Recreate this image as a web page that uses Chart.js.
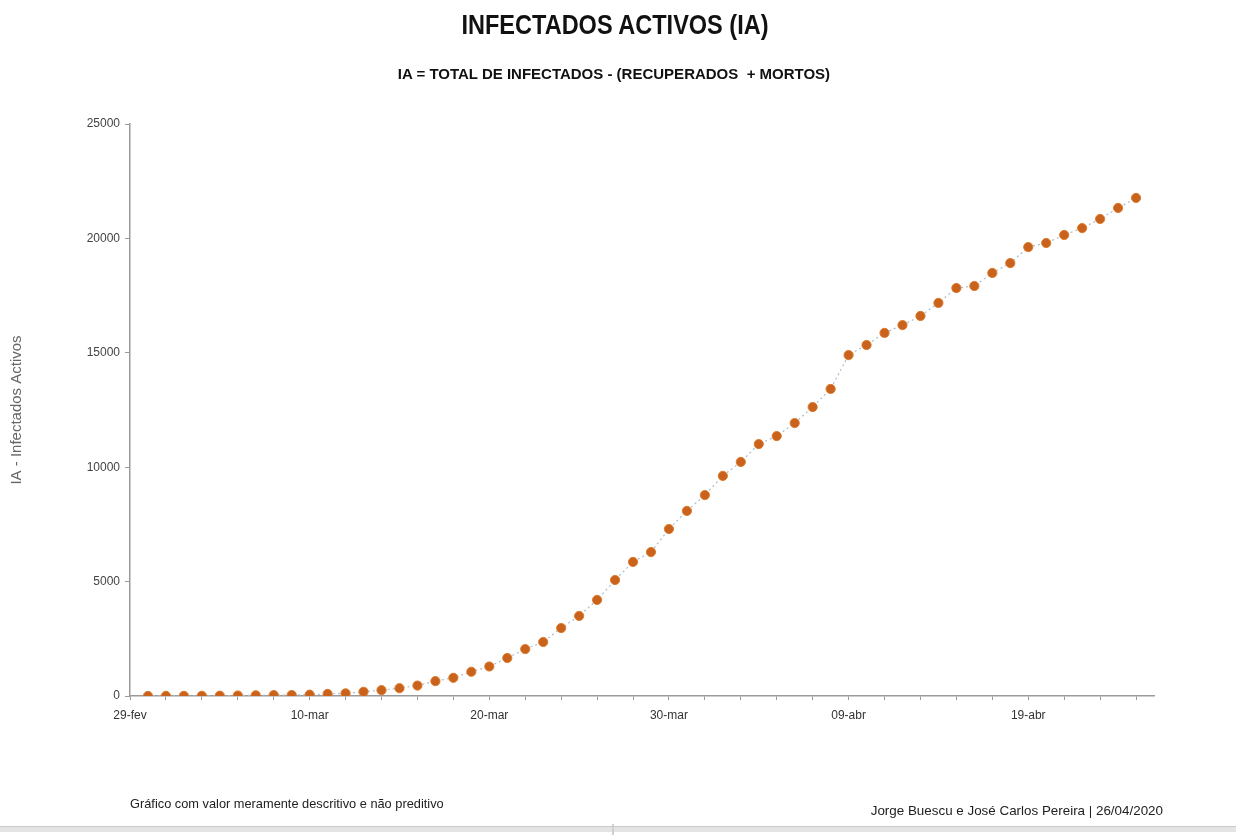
<!DOCTYPE html>
<html><head><meta charset="utf-8">
<script src="https://cdn.jsdelivr.net/npm/chart.js@4"></script>
<style>
html,body{margin:0;padding:0;background:#fff;}
body{width:1236px;height:835px;position:relative;overflow:hidden;font-family:"Liberation Sans",Arial,sans-serif;}
#c{position:absolute;left:0;top:0;}
.t{position:absolute;white-space:nowrap;color:#111;}
#title{left:0;width:1230px;text-align:center;top:9px;font-weight:bold;font-size:28px;transform:scaleX(0.84);transform-origin:615px 0;}
#sub{left:0;width:1228px;text-align:center;top:65px;font-weight:bold;font-size:15px;}
#foot1{left:130px;top:796px;font-size:12.8px;color:#222;}
#foot2{right:73px;top:803px;font-size:13.4px;color:#222;}
#band{position:absolute;left:0;top:826px;width:1236px;height:5px;background:#e4e4e4;border-top:1px solid #c9c9c9;}
#div{position:absolute;left:612px;top:824px;width:2px;height:11px;background:#d0d0d0;}
</style></head>
<body>
<canvas id="c" width="1236" height="835"></canvas>
<div class="t" id="title">INFECTADOS ACTIVOS (IA)</div>
<div class="t" id="sub">IA = TOTAL DE INFECTADOS - (RECUPERADOS &nbsp;+ MORTOS)</div>
<div class="t" id="foot1">Gráfico com valor meramente descritivo e não preditivo</div>
<div class="t" id="foot2">Jorge Buescu e José Carlos Pereira | 26/04/2020</div>
<div id="band"></div><div id="div"></div>
<script>
// Axis categories (one per day)
const dayLabels = [
 '29-fev',
 '01-mar','02-mar','03-mar','04-mar','05-mar','06-mar','07-mar','08-mar','09-mar','10-mar',
 '11-mar','12-mar','13-mar','14-mar','15-mar','16-mar','17-mar','18-mar','19-mar','20-mar',
 '21-mar','22-mar','23-mar','24-mar','25-mar','26-mar','27-mar','28-mar','29-mar','30-mar','31-mar',
 '01-abr','02-abr','03-abr','04-abr','05-abr','06-abr','07-abr','08-abr','09-abr','10-abr',
 '11-abr','12-abr','13-abr','14-abr','15-abr','16-abr','17-abr','18-abr','19-abr','20-abr',
 '21-abr','22-abr','23-abr','24-abr','25-abr','26-abr'
];
// Dates that carry a point (01-mar .. 25-abr)
const pointDates = dayLabels.slice(1, 57);
// Active infected (IA)
const activeInfected = [
 2, 4, 6, 9, 13, 21, 30, 39, 41, 59,
 90, 115, 185, 255, 340, 455, 650, 795, 1060, 1290,
 1660, 2050, 2360, 2970, 3500, 4200, 5070, 5860, 6290, 7300,
 8090, 8780, 9620, 10230, 11010, 11360, 11930, 12630, 13420, 14900,
 15340, 15870, 16210, 16610, 17180, 17830, 17920, 18490, 18920, 19620,
 19800, 20150, 20450, 20850, 21330, 21770
];
// Tick labels shown on the axes
const xTickLabels = ['29-fev','10-mar','20-mar','30-mar','09-abr','19-abr'];
const yTicks = [0, 5000, 10000, 15000, 20000, 25000];

const FONT = '"Liberation Sans", Arial, sans-serif';
const data = pointDates.map((d, i) => ({x: d, y: activeInfected[i]}));

new Chart(document.getElementById('c'), {
  type: 'line',
  data: {
    labels: dayLabels,
    datasets: [{
      data: data,
      borderColor: '#a9bccf',
      borderWidth: 1.2,
      borderDash: [2, 3],
      pointRadius: 4.6,
      pointBackgroundColor: '#c8621c',
      pointBorderColor: '#dd7a2a',
      pointBorderWidth: 1,
      tension: 0,
      fill: false
    }]
  },
  options: {
    responsive: false,
    animation: false,
    layout: {padding: {left: 6, top: 124, right: 82, bottom: 109}},
    plugins: {legend: {display: false}, tooltip: {enabled: false}},
    scales: {
      x: {
        type: 'category',
        grid: {
          drawOnChartArea: false,
          tickLength: 4,
          color: c => (c.index % 2 === 0 ? '#9a9a9a' : 'rgba(0,0,0,0)')
        },
        border: {color: '#9a9a9a', width: 1.5},
        ticks: {
          autoSkip: false, maxRotation: 0, minRotation: 0,
          font: {size: 12, family: FONT}, color: '#333', padding: 8,
          callback: (v, i) => (xTickLabels.includes(dayLabels[i]) ? dayLabels[i] : '')
        },
        afterFit: s => { s.height = 30; }
      },
      y: {
        min: 0, max: 25000,
        afterBuildTicks: s => { s.ticks = yTicks.map(v => ({value: v})); },
        ticks: {font: {size: 12, family: FONT}, color: '#444', padding: 5, callback: v => String(v)},
        grid: {drawOnChartArea: false, tickLength: 5, color: '#9a9a9a'},
        border: {color: '#9a9a9a', width: 1.5},
        title: {display: true, text: 'IA - Infectados Activos', font: {size: 15, family: FONT}, color: '#666', padding: {top: 2, bottom: 4}},
        afterFit: s => { s.width = 124; }
      }
    }
  }
});
</script>
</body></html>
